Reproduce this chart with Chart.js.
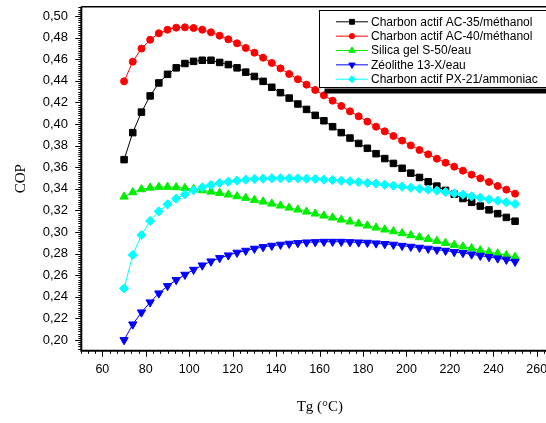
<!DOCTYPE html>
<html>
<head>
<meta charset="utf-8">
<script src="https://cdn.jsdelivr.net/npm/chart.js@4/dist/chart.umd.min.js"></script>
<style>
html,body{margin:0;padding:0;background:#fff;overflow:hidden;width:546px;height:423px;}
#wrap{width:570px;height:423px;}
</style>
</head>
<body>
<div id="wrap"><canvas id="c" width="570" height="423"></canvas></div>
<script>
const tg = [70,74,78,82,86,90,94,98,102,106,110,114,118,122,126,130,134,138,142,146,150,154,158,162,166,170,174,178,182,186,190,194,198,202,206,210,214,218,222,226,230,234,238,242,246,250];

const ac35 = [0.367,0.392,0.411,0.426,0.438,0.446,0.452,0.456,0.458,0.459,0.459,0.457,0.455,0.452,0.448,0.444,0.4395,0.434,0.429,0.424,0.4185,0.4135,0.408,0.403,0.3975,0.392,0.387,0.382,0.3775,0.3725,0.368,0.3635,0.359,0.3545,0.3505,0.3465,0.3425,0.3385,0.335,0.331,0.3275,0.324,0.3205,0.317,0.3135,0.310];
const ac40 = [0.4395,0.4577,0.4698,0.478,0.484,0.4873,0.4892,0.4895,0.4889,0.4873,0.4849,0.4818,0.4784,0.4747,0.4704,0.466,0.4614,0.4565,0.4515,0.4463,0.4414,0.4364,0.4315,0.4265,0.4216,0.4167,0.4117,0.4071,0.4022,0.3975,0.3932,0.3889,0.3846,0.3802,0.3759,0.3719,0.3679,0.3642,0.3605,0.3568,0.3531,0.3497,0.3463,0.3426,0.3392,0.3355];
const silica = [0.3327,0.3367,0.3395,0.341,0.3417,0.3417,0.3414,0.3407,0.3398,0.3386,0.3373,0.3361,0.3346,0.333,0.3315,0.3296,0.3281,0.3262,0.3244,0.3225,0.3207,0.3188,0.317,0.3151,0.3133,0.3114,0.3096,0.3077,0.3059,0.304,0.3022,0.3006,0.2988,0.2969,0.2951,0.2935,0.2917,0.2898,0.288,0.2864,0.2849,0.283,0.2815,0.28,0.2784,0.2769];
const zeolithe = [0.200,0.2145,0.2256,0.2349,0.2432,0.250,0.2556,0.2605,0.2651,0.2691,0.2728,0.2759,0.2784,0.2809,0.2827,0.2846,0.2861,0.2873,0.2883,0.2892,0.2898,0.2904,0.2907,0.291,0.291,0.291,0.2907,0.2904,0.2901,0.2895,0.2889,0.2883,0.2873,0.2864,0.2855,0.2846,0.2836,0.2827,0.2815,0.2806,0.2793,0.2781,0.2769,0.2756,0.2744,0.2725];
const px21 = [0.2478,0.2787,0.2972,0.3102,0.3191,0.3256,0.3309,0.3349,0.3386,0.3414,0.3435,0.3454,0.3466,0.3475,0.3485,0.3491,0.3494,0.3497,0.3497,0.3497,0.3497,0.3494,0.3491,0.3485,0.3481,0.3475,0.3469,0.3463,0.3454,0.3448,0.3438,0.3429,0.342,0.341,0.3401,0.3392,0.3383,0.337,0.3358,0.3346,0.333,0.3318,0.3302,0.329,0.3275,0.3259];

const seriesNames = ["Charbon actif AC-35/méthanol","Charbon actif AC-40/méthanol","Silica gel S-50/eau","Zéolithe 13-X/eau","Charbon actif PX-21/ammoniac"];
const xTickValues = [60,80,100,120,140,160,180,200,220,240,260];
const yTickValues = [0.20,0.22,0.24,0.26,0.28,0.30,0.32,0.34,0.36,0.38,0.40,0.42,0.44,0.46,0.48,0.50];

const styles = [
  {color:'#000000', pointStyle:'rect', radius:4.6, rotation:0, order:5},
  {color:'#ff0000', pointStyle:'circle', radius:3.5, rotation:0, order:4},
  {color:'#00ee00', pointStyle:'triangle', radius:4.8, rotation:0, order:3},
  {color:'#0000ff', pointStyle:'triangle', radius:4.8, rotation:180, order:2},
  {color:'#00ffff', pointStyle:'rectRot', radius:4.6, rotation:0, order:1}
];
const seriesValues = [ac35, ac40, silica, zeolithe, px21];

const datasets = seriesValues.map((vals,i)=>({
  label: seriesNames[i],
  data: tg.map((x,k)=>({x:x, y:vals[k]})),
  borderColor: styles[i].color,
  backgroundColor: styles[i].color,
  borderWidth: 1,
  pointStyle: styles[i].pointStyle,
  pointRadius: styles[i].radius,
  pointRotation: styles[i].rotation,
  pointBorderWidth: 1,
  pointBorderColor: styles[i].color,
  pointBackgroundColor: styles[i].color,
  order: styles[i].order,
  tension: 0,
  clip: false
}));

const framePlugin = {
  id: 'frame',
  afterDraw(chart) {
    const {ctx, chartArea: a, scales} = chart;
    const x = scales.x, y = scales.y;
    ctx.save();
    ctx.strokeStyle = '#000';
    ctx.lineWidth = 1;
    ctx.beginPath();
    for (let k = 95; k <= 254; k++) {
      const py = Math.round(y.getPixelForValue(k * 0.002)) + 0.5;
      if (py < a.top - 0.5 || py > a.bottom + 0.5) continue;
      const len = (k % 10 === 0) ? 6 : 3;
      ctx.moveTo(a.left - len, py);
      ctx.lineTo(a.left, py);
    }
    for (let j = -3; j <= 66; j++) {
      const v = 60 + j * 20 / 6;
      const px = Math.round(x.getPixelForValue(v)) + 0.5;
      if (px < a.left || px > a.right) continue;
      const len = (j % 6 === 0) ? 6 : 3;
      ctx.moveTo(px, a.bottom);
      ctx.lineTo(px, a.bottom + len);
    }
    ctx.stroke();
    ctx.lineWidth = 2;
    ctx.beginPath();
    ctx.moveTo(a.left, a.top);
    ctx.lineTo(a.left, a.bottom);
    ctx.lineTo(a.right, a.bottom);
    ctx.stroke();
    ctx.lineWidth = 1.5;
    ctx.beginPath();
    ctx.moveTo(a.left, a.top);
    ctx.lineTo(a.right + 5, a.top);
    ctx.stroke();

    const bx = 319.5, by = 10.5, bw = 250, bh = 77;
    ctx.fillStyle = '#000';
    ctx.fillRect(bx + 5, by + bh + 1, bw, 5);
    ctx.fillStyle = '#fff';
    ctx.fillRect(bx, by, bw, bh);
    ctx.lineWidth = 1;
    ctx.strokeStyle = '#000';
    ctx.strokeRect(bx, by, bw, bh);
    ctx.font = '12px "Liberation Sans", Arial, sans-serif';
    ctx.textBaseline = 'middle';
    ctx.textAlign = 'left';
    seriesNames.forEach((name, i) => {
      const ry = 21.8 + i * 14.35;
      const st = styles[i];
      ctx.strokeStyle = st.color;
      ctx.lineWidth = 1;
      ctx.beginPath();
      ctx.moveTo(336, ry);
      ctx.lineTo(368, ry);
      ctx.stroke();
      ctx.fillStyle = st.color;
      Chart.helpers.drawPoint(ctx, {pointStyle: st.pointStyle, rotation: st.rotation, radius: st.radius * 0.75, borderWidth: 1}, 352, ry);
      ctx.fillStyle = '#000';
      ctx.fillText(name, 371, ry + 0.5);
    });
    ctx.restore();
  }
};

new Chart(document.getElementById('c'), {
  type: 'line',
  data: { datasets },
  options: {
    responsive: false,
    animation: false,
    events: [],
    layout: { padding: { top: 6.7, right: 11.5, left: 0, bottom: 0 } },
    plugins: { legend: { display: false }, tooltip: { enabled: false } },
    scales: {
      x: {
        type: 'linear',
        min: 50.3, max: 270,
        grid: { display: false },
        border: { display: false },
        afterBuildTicks: s => { s.ticks = xTickValues.map(v => ({value: v})); },
        afterFit: s => { s.height = 72.2; s.paddingLeft = 0; s.paddingRight = 0; },
        ticks: {
          color: '#000',
          padding: 3,
          maxRotation: 0,
          autoSkip: false,
          font: { family: '"Liberation Sans", Arial, sans-serif', size: 12.5 },
          callback: v => String(v)
        },
        title: {
          display: true,
          text: 'Tg (°C)',
          color: '#000',
          padding: 7,
          font: { family: '"Liberation Serif", "Times New Roman", serif', size: 15 }
        }
      },
      y: {
        type: 'linear',
        min: 0.19, max: 0.5086,
        grid: { display: false },
        border: { display: false },
        afterBuildTicks: s => { s.ticks = yTickValues.map(v => ({value: v})); },
        afterFit: s => { s.width = 81.3; s.paddingTop = 0; s.paddingBottom = 0; },
        ticks: {
          color: '#000',
          padding: 5.3,
          autoSkip: false,
          font: { family: '"Liberation Sans", Arial, sans-serif', size: 13 },
          callback: v => Number(v).toFixed(2).replace('.', ',')
        },
        title: {
          display: true,
          text: 'COP',
          color: '#000',
          padding: 12,
          font: { family: '"Liberation Serif", "Times New Roman", serif', size: 15 }
        }
      }
    }
  },
  plugins: [framePlugin]
});
</script>
</body>
</html>
